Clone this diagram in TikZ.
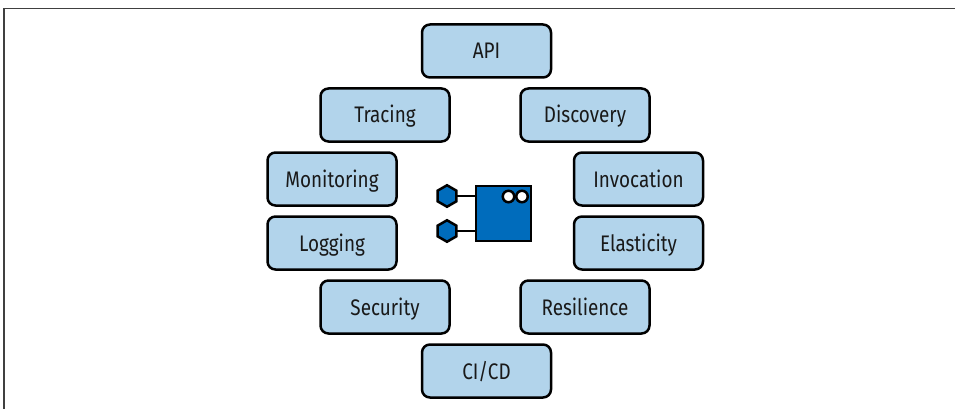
\documentclass[tikz,border=0pt]{standalone}
\usepackage{fontspec}
\setmainfont[FakeStretch=0.84]{Fira Sans}
\usetikzlibrary{shapes.geometric}
\tikzset{
  x=1pt,y=-1pt,
  svc/.style={draw=black,line width=2.5pt,fill=svcblue,rounded corners=8pt,minimum width=129pt,minimum height=53pt,inner sep=0pt,font=\fontsize{22.5}{24}\selectfont,text=black!90,text height=16pt,text depth=0pt},
  hexa/.style={draw=black,line width=2.5pt,fill=corblue,regular polygon,regular polygon sides=6,shape border rotate=30,minimum size=21.5pt,inner sep=0pt},
  link/.style={draw=black,line width=2.2pt},
  port/.style={draw=black,line width=2.5pt,fill=white,circle,minimum size=11.5pt,inner sep=0pt},
  corebox/.style={draw=black,line width=2.5pt,fill=corblue,minimum width=55pt,minimum height=55pt,inner sep=0pt},
  framel/.style={draw=black!75,line width=1.3pt}
}
\definecolor{svcblue}{RGB}{178,212,235}
\definecolor{corblue}{RGB}{0,108,188}
\begin{document}
\begin{tikzpicture}
\useasboundingbox (0,0) rectangle (955,409);
\coordinate (fa) at (4,409);
\coordinate (fb) at (4,8.5);
\coordinate (fc) at (955,8.5);
\draw[framel] (fa) -- (fb) -- (fc);
\node[svc] (api) at (486.5,51) {API};
\node[svc] (tracing) at (385,115) {Tracing};
\node[svc] (discovery) at (585,115) {Discovery};
\node[svc] (monitoring) at (332,179) {Monitoring};
\node[svc] (invocation) at (638.5,179) {Invocation};
\node[svc] (logging) at (332,243) {Logging};
\node[svc] (elasticity) at (638.5,243) {Elasticity};
\node[svc] (security) at (385,307) {Security};
\node[svc] (resilience) at (585,307) {Resilience};
\node[svc] (cicd) at (486.5,371) {CI/CD};
\node[corebox] (core) at (503.5,213.5) {};
\node[hexa] (h1) at (447,196) {};
\node[hexa] (h2) at (447,231) {};
\draw[link] (h1.center) ++(8,0) -- (h1.center -| core.west);
\draw[link] (h2.center) ++(8,0) -- (h2.center -| core.west);
\node[port] (p1) at (508.5,196.5) {};
\node[port] (p2) at (522,196.5) {};
\end{tikzpicture}
\end{document}
